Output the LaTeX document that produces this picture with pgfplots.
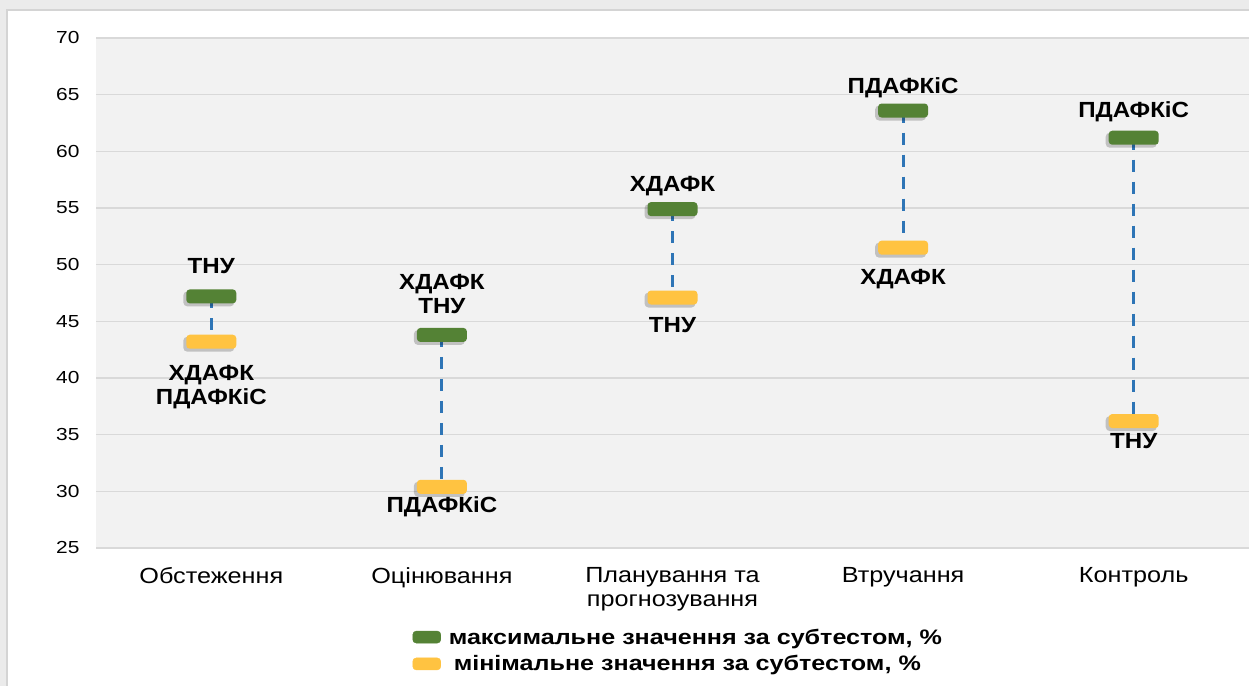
\documentclass[border=0pt]{standalone}
\usepackage{fontspec}
\setmainfont{Liberation Sans}[FakeStretch=1.2]
\newfontfamily\lblfont{Liberation Sans}[FakeStretch=1.1]
\newfontfamily\catfont{Liberation Sans}[FakeStretch=1.15]
\usepackage{pgfplots}
\usepackage{pgfplotstable}
\pgfplotsset{compat=1.18}
\definecolor{maxc}{HTML}{548235}
\definecolor{minc}{HTML}{FFC341}
\definecolor{linec}{HTML}{2E75B6}
\definecolor{plotbg}{HTML}{F2F2F2}
\definecolor{gridc}{HTML}{D9D9D9}
\definecolor{outerbg}{HTML}{EBEBEB}
\definecolor{framec}{HTML}{D4D4D4}

\pgfdeclareplotmark{pill}{%
  \begin{pgfscope}
    \pgfsetfillopacity{0.2}\pgfsetfillcolor{black}
    \pgfsetcornersarced{\pgfpoint{4bp}{4bp}}
    \pgfpathrectangle{\pgfpoint{-28bp}{-10bp}}{\pgfpoint{51bp}{15bp}}
    \pgfusepath{fill}
  \end{pgfscope}
  \pgfsetcornersarced{\pgfpoint{3.5bp}{3.5bp}}
  \pgfpathrectangle{\pgfpoint{-25bp}{-7bp}}{\pgfpoint{50bp}{14bp}}
  \pgfusepath{fill}%
}

\pgfplotstableread{
x max min
0 47.2 43.2
1 43.8 30.4
2 54.9 47.1
3 63.6 51.5
4 61.2 36.2
}\vals

\begin{document}
\begin{tikzpicture}[x=1bp,y=1bp]
\useasboundingbox (0,0) rectangle (1249,686);
\fill[outerbg] (0,0) rectangle (1249,686);
\fill[white, draw=framec, line width=1.2bp] (7,-5) rectangle (1260,676);
\begin{axis}[
  at={(96bp,138bp)}, anchor=south west,
  scale only axis, width=1153bp, height=510bp,
  xmin=-0.5, xmax=4.5, ymin=25, ymax=70,
  ytick={25,30,...,70},
  xtick={0,...,4},
  xticklabels={Обстеження, Оцінювання, {Планування та\\прогнозування}, Втручання, Контроль},
  axis line style={draw=none},
  major tick length=0pt,
  ymajorgrids,
  grid style={gridc, line width=1.3bp},
  axis background/.style={fill=plotbg},
  clip=false,
  /pgf/number format/assume math mode=true,
  yticklabel style={font=\fontsize{17.5}{20}\selectfont, anchor=east, xshift=-13bp},
  xticklabel style={font=\catfont\fontsize{22}{24}\selectfont, align=center, anchor=north, inner sep=0pt, yshift=-19bp},
  legend style={at={(axis description cs:0.505,-0.15)}, anchor=north, draw=none, fill=none,
    font=\bfseries\fontsize{21}{24}\selectfont, row sep=6bp},
  legend cell align=left,
  legend image code/.code={\path[draw=none,fill=none] (-9bp,0) -- (25bp,0);\fill[rounded corners=3.5bp] (-9bp,-6bp) rectangle (19bp,6bp);},
]
\addplot[forget plot, draw=none, mark=none,
  error bars/.cd, y dir=minus, y explicit, error mark=none,
  error bar style={linec, dash pattern=on 12bp off 10bp, line width=3bp}]
  table[x=x, y=max, y error expr=\thisrow{max}-\thisrow{min}] {\vals};
\addplot[only marks, mark=pill, color=maxc, fill=maxc] table[x=x, y=max] {\vals};
\addlegendentry{максимальне значення за субтестом, \%}
\addplot[only marks, mark=pill, color=minc, fill=minc] table[x=x, y=min] {\vals};
\addlegendentry{\hspace{5bp}мінімальне значення за субтестом, \%}
\addplot[forget plot, draw=none, mark=none, nodes near coords, point meta=explicit symbolic,
  every node near coord/.style={anchor=center, align=center, black,
    font=\lblfont\bfseries\fontsize{22}{24}\selectfont}]
  coordinates {
  (0,49.9) [ТНУ]
  (0,39.2) [{ХДАФК\\ПДАФКіС}]
  (1,47.4) [{ХДАФК\\ТНУ}]
  (1,28.6) [ПДАФКіС]
  (2,56.9) [ХДАФК]
  (2,44.7) [ТНУ]
  (3,65.6) [ПДАФКіС]
  (3,48.7) [ХДАФК]
  (4,63.5) [ПДАФКіС]
  (4,34.4) [ТНУ]
  };
\end{axis}
\end{tikzpicture}
\end{document}
